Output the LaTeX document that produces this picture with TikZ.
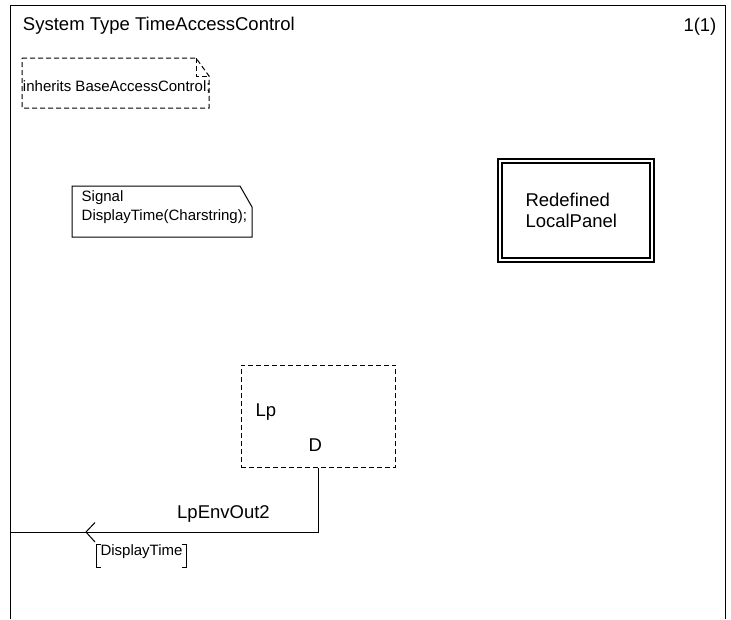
\documentclass[tikz,border=0pt]{standalone}
\usepackage{fontspec}
\setmainfont{Liberation Sans}
\begin{document}
\begin{tikzpicture}[x=1pt,y=-1pt, line width=1pt,
  sm/.style={font=\fontsize{15}{17}\selectfont, inner sep=0pt, anchor=base west},
  lg/.style={font=\fontsize{18.5}{21}\selectfont, inner sep=0pt, anchor=base west},
  dsh/.style={dash pattern=on 5pt off 3pt}]
\useasboundingbox (0,0) rectangle (731,619);
% frame
\draw (10,619) -- (10,5) -- (725,5) -- (725,619);
\node[lg] (title) at (22.5,30) {System Type TimeAccessControl};
\node[lg] (page) at (683,31) {1(1)};
% inherits note
\draw[dsh] (22,58) -- (196,58) -- (209,76) -- (209,108) -- (22,108) -- cycle;
\draw[dsh] (196,58) -- (196,76) -- (209,76);
\node[sm] (inh) at (22.5,91.5) {inherits BaseAccessControl;};
% signal note
\draw (72,186) -- (240,186) -- (252,207) -- (252,237) -- (72,237) -- cycle;
\node[sm] (sig1) at (81.2,201.7) {Signal};
\node[sm] (sig2) at (81.2,220.7) {DisplayTime(Charstring);};
% redefined block
\node[draw, double, double distance=2.7pt, line width=1.3pt, minimum width=152pt, minimum height=99pt, inner sep=0pt] (localpanel) at (576,210.5) {};
\node[lg] (lpl1) at (525,206.7) {Redefined};
\node[lg] (lpl2) at (525,227) {LocalPanel};
% Lp block
\node[draw, dsh, minimum width=154.7pt, minimum height=102.7pt, inner sep=0pt] (lpb) at (318.35,416.35) {};
\node[lg] (lpname) at (255,416) {Lp};
\node[lg] (gate) at (308,451.7) {D};
% channel
\coordinate (env) at (10,532);
\coordinate (tip) at (86,532);
\draw (lpb.south) |- (env);
\draw ([shift={(9,-9.5)}]tip) -- (tip) -- ([shift={(9,10)}]tip);
\node[lg] (chname) at (176.7,518) {LpEnvOut2};
\node[sm] (siglist) at (100,555) {DisplayTime};
\draw ([xshift=1pt,yshift=11pt]siglist.base west) -- ++(-5,0) -- ++(0,23) -- ++(5,0);
\draw ([xshift=-1pt,yshift=11pt]siglist.base east) -- ++(5,0) -- ++(0,23) -- ++(-5,0);
\end{tikzpicture}
\end{document}
